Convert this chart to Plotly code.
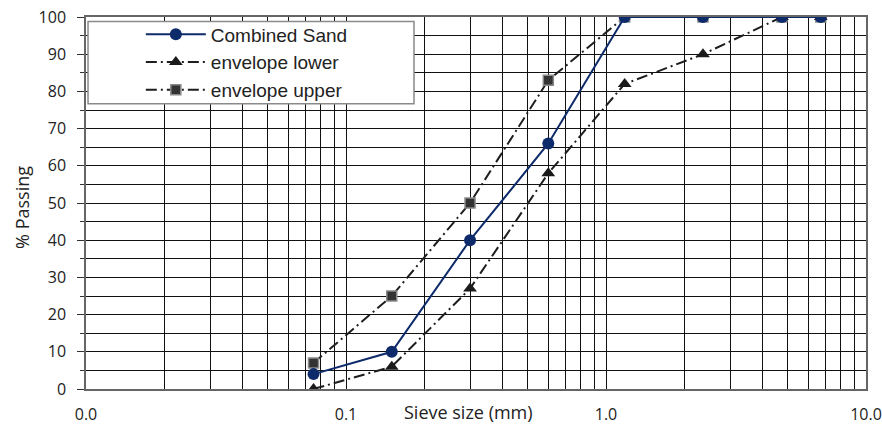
import plotly.graph_objects as go

# ---- data ----
sieve_mm = [0.075, 0.15, 0.3, 0.6, 1.18, 2.36, 4.75, 6.7]
combined_sand = [4, 10, 40, 66, 100, 100, 100, 100]
envelope_lower = [0, 6, 27, 58, 82, 90, 100, 100]
envelope_upper = [7, 25, 50, 83, 100, 100, 100, 100]

x_label_vals = [0.01, 0.1, 1, 10]
x_label_text = ["0.0", "0.1", "1.0", "10.0"]
y_tick_vals = list(range(0, 101, 10))

# log grid lines at 1..9 x each decade
grid_vals = [m * d for d in [0.01, 0.1, 1] for m in range(1, 10)] + [10]
grid_text = [x_label_text[x_label_vals.index(v)] if v in x_label_vals else "" for v in grid_vals]

TICK_FONT = dict(family="Open Sans, DejaVu Sans, sans-serif", size=16, color="#222222")
TITLE_FONT = dict(family="Open Sans, DejaVu Sans, sans-serif", size=18, color="#222222")
LEG_FONT = dict(family="Liberation Sans, Arial, sans-serif", size=19, color="#222222")
DASHDOT = "11px,4px,2px,4px"

fig = go.Figure()

fig.add_trace(go.Scatter(
    x=sieve_mm, y=envelope_upper, name="envelope upper", mode="lines+markers",
    line=dict(color="#1e1e1e", width=2, dash=DASHDOT),
    marker=dict(symbol="square", size=10, color="#333333", line=dict(color="#8a8a8a", width=1.5)),
    legendrank=3,
))
fig.add_trace(go.Scatter(
    x=sieve_mm, y=envelope_lower, name="envelope lower", mode="lines+markers",
    line=dict(color="#1e1e1e", width=2, dash=DASHDOT),
    marker=dict(symbol="triangle-up", size=12, color="#1a1a1a"),
    legendrank=2,
))
fig.add_trace(go.Scatter(
    x=sieve_mm, y=combined_sand, name="Combined Sand", mode="lines+markers",
    line=dict(color="#0d2a6a", width=2),
    marker=dict(symbol="circle", size=12, color="#0d2a6a"),
    legendrank=1,
))

fig.update_layout(
    width=882, height=424,
    margin=dict(l=86, r=16, t=17, b=35, autoexpand=False),
    paper_bgcolor="white", plot_bgcolor="white",
    showlegend=True,
    legend=dict(
        x=0.0703, y=1.004, xanchor="left", yanchor="top",
        bgcolor="rgba(0,0,0,0)", borderwidth=0,
        font=LEG_FONT, itemwidth=60, tracegroupgap=0,
    ),
    shapes=[dict(
        type="rect", xref="paper", yref="paper",
        x0=0.0026, x1=0.4205, y0=0.767, y1=0.988,
        fillcolor="white", line=dict(color="#8a8a8a", width=1.5), layer="above",
    )],
    annotations=[
        dict(text="Sieve size (mm)", xref="paper", yref="paper", x=0.49, y=-0.061,
             xanchor="center", yanchor="middle", showarrow=False, font=TITLE_FONT),
        dict(text="% Passing", xref="paper", yref="paper", x=-0.082, y=0.487,
             xanchor="center", yanchor="middle", textangle=-90, showarrow=False, font=TITLE_FONT),
    ],
)

fig.update_xaxes(
    type="log", range=[-2, 1], automargin=False,
    tickmode="array", tickvals=grid_vals, ticktext=grid_text,
    ticks="", showgrid=True, gridcolor="#111111", gridwidth=1,
    showline=True, linecolor="#666666", linewidth=1.5, mirror=True,
    tickfont=TICK_FONT, ticklabelstandoff=10, zeroline=False,
)
fig.update_yaxes(
    range=[0, 100], tickmode="array", tickvals=y_tick_vals, automargin=False,
    ticks="outside", ticklen=7, tickcolor="#333333",
    showgrid=True, gridcolor="#111111", gridwidth=1,
    minor=dict(dtick=5, tick0=0, showgrid=True, gridcolor="#111111", gridwidth=1,
               ticks="outside", ticklen=4, tickcolor="#333333"),
    showline=True, linecolor="#666666", linewidth=1.5, mirror=True,
    tickfont=TICK_FONT, ticklabelstandoff=8, zeroline=False,
)

fig.write_html("out.html")
